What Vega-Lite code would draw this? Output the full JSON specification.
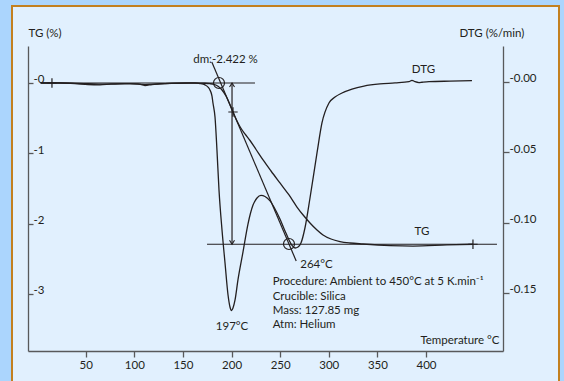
{
  "$schema": "https://vega.github.io/schema/vega-lite/v6.json",
  "width": 475,
  "height": 305,
  "autosize": {"type": "none"},
  "padding": {"left": 28, "top": 46, "right": 61, "bottom": 30},
  "background": "#abd5fd",
  "config": {
    "view": {"stroke": null},
    "font": "Lato",
    "axis": {
      "grid": false,
      "labelFont": "Lato",
      "titleFont": "Lato",
      "labelFontSize": 11.5,
      "titleFontSize": 11.5,
      "titleFontWeight": "normal",
      "labelColor": "#231f20",
      "titleColor": "#231f20",
      "domainColor": "#58595b",
      "tickColor": "#58595b",
      "domainWidth": 1.3,
      "tickWidth": 1.3
    },
    "text": {"font": "Lato", "fontSize": 11.5, "color": "#231f20"}
  },
  "datasets": {
    "tg": [
      {"t": 4.0, "tg": 0}, {"t": 23.6, "tg": 0}, {"t": 52.4, "tg": -0.011}, {"t": 76.0, "tg": -0.017},
      {"t": 95.6, "tg": -0.009}, {"t": 111.0, "tg": -0.023}, {"t": 126.4, "tg": -0.011}, {"t": 141.8, "tg": -0.006},
      {"t": 157.3, "tg": -0.003}, {"t": 167.6, "tg": -0.003}, {"t": 172.7, "tg": -0.004}, {"t": 177.8, "tg": -0.010},
      {"t": 181.9, "tg": -0.021}, {"t": 186.1, "tg": -0.047}, {"t": 190.2, "tg": -0.100}, {"t": 194.3, "tg": -0.185},
      {"t": 197.9, "tg": -0.292}, {"t": 201.5, "tg": -0.413}, {"t": 205.1, "tg": -0.526}, {"t": 209.2, "tg": -0.633},
      {"t": 213.8, "tg": -0.725}, {"t": 219.0, "tg": -0.818}, {"t": 225.2, "tg": -0.946}, {"t": 232.4, "tg": -1.095},
      {"t": 240.6, "tg": -1.252}, {"t": 249.8, "tg": -1.422}, {"t": 259.1, "tg": -1.593}, {"t": 267.3, "tg": -1.764},
      {"t": 274.5, "tg": -1.892}, {"t": 280.7, "tg": -1.991}, {"t": 287.9, "tg": -2.091}, {"t": 294.1, "tg": -2.162},
      {"t": 302.3, "tg": -2.219}, {"t": 311.5, "tg": -2.255}, {"t": 321.8, "tg": -2.276}, {"t": 335.2, "tg": -2.290},
      {"t": 363.0, "tg": -2.312}, {"t": 386.6, "tg": -2.319}, {"t": 421.6, "tg": -2.304}, {"t": 448.3, "tg": -2.294}
    ],
    "dtg": [
      {"t": 4.0, "dtg": -0.0009}, {"t": 23.6, "dtg": -0.0009}, {"t": 39.0, "dtg": -0.0013}, {"t": 52.4, "dtg": -0.0020},
      {"t": 64.7, "dtg": -0.0022}, {"t": 76.0, "dtg": -0.0016}, {"t": 90.4, "dtg": -0.0013}, {"t": 103.8, "dtg": -0.0016},
      {"t": 111.0, "dtg": -0.0027}, {"t": 118.2, "dtg": -0.0020}, {"t": 131.6, "dtg": -0.0013}, {"t": 152.1, "dtg": -0.0009},
      {"t": 162.4, "dtg": -0.0009}, {"t": 167.6, "dtg": -0.0013}, {"t": 172.7, "dtg": -0.0023}, {"t": 175.8, "dtg": -0.0038},
      {"t": 177.8, "dtg": -0.0059}, {"t": 179.9, "dtg": -0.0102}, {"t": 180.9, "dtg": -0.0151}, {"t": 183.0, "dtg": -0.0251},
      {"t": 185.0, "dtg": -0.0485}, {"t": 187.1, "dtg": -0.0769}, {"t": 190.2, "dtg": -0.1053}, {"t": 193.3, "dtg": -0.1288},
      {"t": 196.4, "dtg": -0.1515}, {"t": 198.4, "dtg": -0.1600}, {"t": 200.0, "dtg": -0.1625}, {"t": 201.5, "dtg": -0.1607},
      {"t": 203.6, "dtg": -0.1550}, {"t": 206.6, "dtg": -0.1408}, {"t": 211.8, "dtg": -0.1209}, {"t": 216.9, "dtg": -0.1011},
      {"t": 222.1, "dtg": -0.0876}, {"t": 226.2, "dtg": -0.0826}, {"t": 230.3, "dtg": -0.0808}, {"t": 234.4, "dtg": -0.0815},
      {"t": 239.6, "dtg": -0.0847}, {"t": 244.7, "dtg": -0.0904}, {"t": 249.8, "dtg": -0.0975}, {"t": 255.0, "dtg": -0.1060},
      {"t": 259.1, "dtg": -0.1124}, {"t": 262.2, "dtg": -0.1163}, {"t": 265.3, "dtg": -0.1181}, {"t": 268.4, "dtg": -0.1174},
      {"t": 271.4, "dtg": -0.1146}, {"t": 275.5, "dtg": -0.1039}, {"t": 280.7, "dtg": -0.0826}, {"t": 287.9, "dtg": -0.0506},
      {"t": 293.0, "dtg": -0.0293}, {"t": 300.2, "dtg": -0.0151}, {"t": 306.4, "dtg": -0.0109}, {"t": 313.6, "dtg": -0.0080},
      {"t": 323.9, "dtg": -0.0052}, {"t": 336.2, "dtg": -0.0031}, {"t": 352.7, "dtg": -0.0016}, {"t": 368.1, "dtg": -0.0009},
      {"t": 382.5, "dtg": 0.0}, {"t": 385.6, "dtg": 0.0010}, {"t": 388.7, "dtg": 0.0}, {"t": 392.8, "dtg": -0.0006},
      {"t": 395.9, "dtg": -0.0004}, {"t": 403.1, "dtg": 0.0}, {"t": 424.7, "dtg": 0.0004}, {"t": 447.3, "dtg": 0.0007}
    ],
    "guides": [
      {"guide": "initial baseline", "t": 3.0, "t2": 224.1, "tg": 0, "tg2": 0},
      {"guide": "final baseline", "t": 174.8, "t2": 473.0, "tg": -2.294, "tg2": -2.294},
      {"guide": "tangent", "t": 179.7, "t2": 266.5, "tg": 0.299, "tg2": -2.532},
      {"guide": "dm step", "t": 200.5, "t2": 200.5, "tg": 0, "tg2": -2.294}
    ],
    "circles": [
      {"point": "onset", "t": 187.1, "tg": 0},
      {"point": "endset", "t": 259.1, "tg": -2.29}
    ],
    "crosses": [
      {"point": "start", "t": 15.3, "tg": 0},
      {"point": "inflection", "t": 201.5, "tg": -0.413},
      {"point": "end", "t": 448.3, "tg": -2.294}
    ],
    "arrowUp": [{"point": "dm top", "t": 200.5, "tg": 0}],
    "arrowDown": [{"point": "dm bottom", "t": 200.5, "tg": -2.294}],
    "notes": [
      {"label": "dm:-2.422 %", "t": 193.8, "tg": 0.327},
      {"label": "DTG", "t": 397.4, "tg": 0.181},
      {"label": "TG", "t": 395.9, "tg": -2.124},
      {"label": "197°C", "t": 200.5, "tg": -3.467},
      {"label": "264°C", "t": 287.4, "tg": -2.589}
    ],
    "procedure": [
      {"label": "Procedure: Ambient to 450°C at 5 K.min⁻¹", "t": 242.3, "tg": -2.826},
      {"label": "Crucible: Silica", "t": 242.3, "tg": -3.040},
      {"label": "Mass: 127.85 mg", "t": 242.3, "tg": -3.239},
      {"label": "Atm: Helium", "t": 242.3, "tg": -3.442}
    ]
  },
  "layer": [
    {
      "layer": [
        {
          "data": {"values": [{"item": "panel"}]},
          "mark": {"type": "rect", "fill": "#e1f0fe", "stroke": "#c3801f", "strokeWidth": 2},
          "encoding": {
            "x": {"datum": -25.8, "type": "quantitative", "scale": {"domain": [-9.34, 479.2], "nice": false, "zero": false}},
            "x2": {"datum": 536.8},
            "y": {"datum": 1.095, "type": "quantitative", "scale": {"domain": [-3.812, 0.526], "nice": false, "zero": false}},
            "y2": {"datum": -4.4}
          }
        },
        {
          "data": {"name": "guides"},
          "mark": {"type": "rule", "color": "#231f20", "strokeWidth": 1.2},
          "encoding": {
            "x": {"field": "t", "type": "quantitative"},
            "x2": {"field": "t2"},
            "y": {"field": "tg", "type": "quantitative"},
            "y2": {"field": "tg2"}
          }
        },
        {
          "data": {"name": "tg"},
          "mark": {"type": "line", "color": "#231f20", "strokeWidth": 1.3, "interpolate": "monotone"},
          "encoding": {
            "x": {
              "field": "t", "type": "quantitative",
              "axis": {
                "zindex": 2,
                "values": [50, 100, 150, 200, 250, 300, 350, 400],
                "title": "Temperature °C",
                "titleX": 471, "titleY": -11, "titleAlign": "right", "titleBaseline": "middle",
                "tickSize": 6, "labelPadding": 2
              }
            },
            "y": {
              "field": "tg", "type": "quantitative",
              "axis": {
                "zindex": 2,
                "orient": "left",
                "values": [0, -1, -2, -3],
                "labelExpr": "'-' + format(abs(datum.value), 'd')",
                "tickSize": -5, "labelPadding": 0, "labelAlign": "left", "labelBaseline": "alphabetic",
                "title": "TG (%)", "titleAngle": 0, "titleX": 0, "titleY": -13, "titleAlign": "left", "titleBaseline": "middle"
              }
            }
          }
        },
        {
          "data": {"name": "circles"},
          "mark": {"type": "point", "shape": "circle", "filled": false, "size": 121, "color": "#231f20", "strokeWidth": 1.2, "opacity": 1},
          "encoding": {
            "x": {"field": "t", "type": "quantitative"},
            "y": {"field": "tg", "type": "quantitative"}
          }
        },
        {
          "data": {"name": "crosses"},
          "mark": {"type": "point", "shape": "M-1,0L1,0M0,-1L0,1", "filled": false, "size": 88, "color": "#231f20", "strokeWidth": 1.2, "opacity": 1},
          "encoding": {
            "x": {"field": "t", "type": "quantitative"},
            "y": {"field": "tg", "type": "quantitative"}
          }
        },
        {
          "data": {"name": "arrowUp"},
          "mark": {"type": "point", "shape": "M-0.83,1.33L0,0L0.83,1.33", "filled": false, "size": 36, "color": "#231f20", "strokeWidth": 1.1, "opacity": 1},
          "encoding": {
            "x": {"field": "t", "type": "quantitative"},
            "y": {"field": "tg", "type": "quantitative"}
          }
        },
        {
          "data": {"name": "arrowDown"},
          "mark": {"type": "point", "shape": "M-0.83,-1.33L0,0L0.83,-1.33", "filled": false, "size": 36, "color": "#231f20", "strokeWidth": 1.1, "opacity": 1},
          "encoding": {
            "x": {"field": "t", "type": "quantitative"},
            "y": {"field": "tg", "type": "quantitative"}
          }
        },
        {
          "data": {"name": "notes"},
          "mark": {"type": "text", "align": "center", "baseline": "middle"},
          "encoding": {
            "x": {"field": "t", "type": "quantitative"},
            "y": {"field": "tg", "type": "quantitative"},
            "text": {"field": "label"}
          }
        },
        {
          "data": {"name": "procedure"},
          "mark": {"type": "text", "align": "left", "baseline": "middle"},
          "encoding": {
            "x": {"field": "t", "type": "quantitative"},
            "y": {"field": "tg", "type": "quantitative"},
            "text": {"field": "label"}
          }
        }
      ]
    },
    {
      "data": {"name": "dtg"},
      "mark": {"type": "line", "color": "#231f20", "strokeWidth": 1.3, "interpolate": "monotone"},
      "encoding": {
        "x": {"field": "t", "type": "quantitative"},
        "y": {
          "field": "dtg", "type": "quantitative",
          "scale": {"domain": [-0.19126, 0.02536], "nice": false, "zero": false},
          "axis": {
            "zindex": 2,
            "orient": "right",
            "values": [0, -0.05, -0.1, -0.15],
            "labelExpr": "'-' + format(abs(datum.value), '.2f')",
            "tickSize": 6, "labelPadding": 0, "labelAlign": "left", "labelBaseline": "alphabetic",
            "title": "DTG (%/min)", "titleAngle": 0, "titleX": -44, "titleY": -13, "titleAlign": "left", "titleBaseline": "middle"
          }
        }
      }
    }
  ],
  "resolve": {"scale": {"y": "independent"}}
}
